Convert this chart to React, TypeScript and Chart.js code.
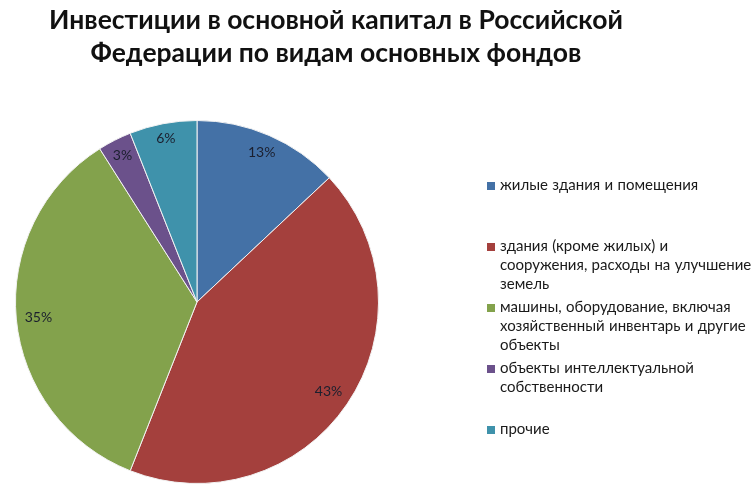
import React, { useEffect, useRef } from "react";
import { Chart, registerables } from "chart.js";

Chart.register(...registerables);

const TITLE_LINES = [
  "Инвестиции в основной капитал в Российской",
  "Федерации по видам основных фондов",
];
const CATEGORIES = [
  "жилые здания и помещения",
  "здания (кроме жилых) и сооружения, расходы на улучшение земель",
  "машины, оборудование, включая хозяйственный инвентарь и другие объекты",
  "объекты интеллектуальной собственности",
  "прочие",
];
const VALUES = [13, 43, 35, 3, 6];
const COLORS = ["#4471A6", "#A4403D", "#83A24C", "#6B518B", "#3F92AB"];

const FONT = "Lato, 'Open Sans', 'Noto Sans', sans-serif";

const labelPlugin = {
  id: "sliceLabels",
  afterDatasetsDraw(chart: any) {
    const ctx = chart.ctx as CanvasRenderingContext2D;
    const meta = chart.getDatasetMeta(0);
    const data = chart.data.datasets[0].data as number[];
    const total = data.reduce((a, b) => a + b, 0);
    ctx.save();
    ctx.font = `14px ${FONT}`;
    ctx.fillStyle = "#1b1f2e";
    ctx.textAlign = "center";
    ctx.textBaseline = "middle";
    meta.data.forEach((arc: any, i: number) => {
      const { x, y, startAngle, endAngle, outerRadius } = arc.getProps(
        ["x", "y", "startAngle", "endAngle", "outerRadius"],
        true
      );
      const mid = (startAngle + endAngle) / 2;
      const text = Math.round((data[i] / total) * 100) + "%";
      const w = ctx.measureText(text).width;
      const h = 11;
      const ux = Math.cos(mid);
      const uy = Math.sin(mid);
      const d = outerRadius - 8 - (Math.abs(ux) * w) / 2 - (Math.abs(uy) * h) / 2;
      ctx.fillText(text, x + ux * d, y + uy * d);
    });
    ctx.restore();
  },
};

export default function App() {
  const ref = useRef<HTMLCanvasElement>(null);
  useEffect(() => {
    const chart = new Chart(ref.current!, {
      type: "pie",
      data: {
        labels: CATEGORIES,
        datasets: [
          {
            data: VALUES,
            backgroundColor: COLORS,
            borderColor: "#f2f2f2",
            borderWidth: 1,
          },
        ],
      },
      options: {
        responsive: false,
        animation: false,
        devicePixelRatio: 1,
        layout: { padding: { left: 15, top: 120, right: 372, bottom: 13 } },
        plugins: { legend: { display: false }, tooltip: { enabled: false } },
      },
      plugins: [labelPlugin],
    } as any);
    return () => chart.destroy();
  }, []);

  const slotTop = 175;
  const slotPitch = 61;

  return (
    <div
      style={{
        position: "absolute",
        left: 0,
        top: 0,
        width: 751,
        height: 497,
        background: "#ffffff",
        overflow: "hidden",
      }}
    >
      <canvas ref={ref} width={751} height={497} style={{ position: "absolute", left: 0, top: 0 }} />
      <div
        style={{
          position: "absolute",
          left: 0,
          top: 3,
          width: 672,
          textAlign: "center",
          fontFamily: FONT,
          fontWeight: 700,
          fontSize: 26.5,
          lineHeight: "33px",
          color: "#111",
          whiteSpace: "nowrap",
        }}
      >
        {TITLE_LINES.map((t, i) => (
          <div key={i}>{t}</div>
        ))}
      </div>
      {CATEGORIES.map((c, i) => (
        <div
          key={i}
          style={{
            position: "absolute",
            left: 487,
            top: slotTop + i * slotPitch,
            width: 266,
            fontFamily: FONT,
            fontSize: 15,
            lineHeight: "19px",
            wordSpacing: 0.5,
            color: "#1a1a1a",
          }}
        >
          <span
            style={{
              position: "absolute",
              left: 0,
              top: 7,
              width: 8,
              height: 8,
              background: COLORS[i],
            }}
          />
          <div style={{ marginLeft: 13, width: 253 }}>{c}</div>
        </div>
      ))}
    </div>
  );
}
